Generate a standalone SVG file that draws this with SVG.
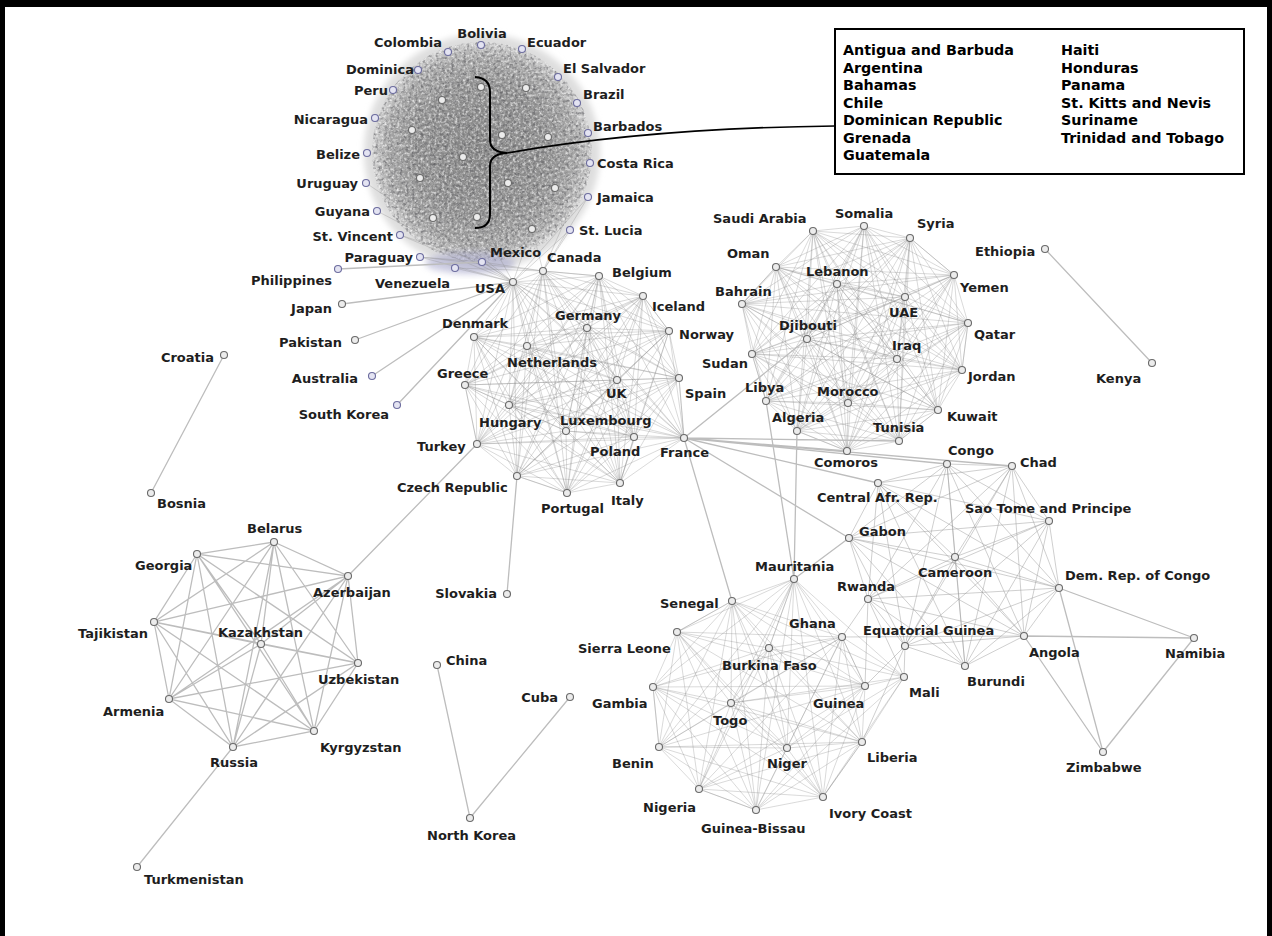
<svg xmlns="http://www.w3.org/2000/svg" width="1272" height="936" viewBox="0 0 1272 936">
<defs>
<style>
.nd{fill:#ececec;stroke:#6a6a6a;stroke-width:1.1}
.nl{fill:#e4e4f2;stroke:#6c6c9e;stroke-width:1.1}
.t{font-family:"DejaVu Sans","Liberation Sans",sans-serif;font-weight:bold;font-size:13px;fill:#1e1e1e}
.te{text-anchor:end}
.tm{text-anchor:middle}
.dense{fill:none;stroke:#8a8a8a;stroke-width:0.7;stroke-opacity:0.45;stroke-linejoin:round}
.mid{fill:none;stroke:#9a9a9a;stroke-width:0.8;stroke-opacity:0.6;stroke-linejoin:round}
.edge{fill:none;stroke:#bdbdbd;stroke-width:1.3}
.lg{font-family:"DejaVu Sans",Verdana,sans-serif;font-weight:bold;font-size:14.3px;fill:#000}
</style>
<radialGradient id="latG" cx="0.5" cy="0.5" r="0.5">
<stop offset="0" stop-color="#868686"/>
<stop offset="0.6" stop-color="#929292"/>
<stop offset="0.85" stop-color="#a6a6a6"/>
<stop offset="0.96" stop-color="#c4c4c4"/>
<stop offset="1" stop-color="#d8d8d8"/>
</radialGradient>
<clipPath id="latC"><circle cx="482" cy="152" r="110"/></clipPath>
<filter id="soft" x="-20%" y="-20%" width="140%" height="140%"><feGaussianBlur stdDeviation="3"/></filter>
<filter id="grainW" x="0" y="0" width="1" height="1" color-interpolation-filters="sRGB">
<feTurbulence type="fractalNoise" baseFrequency="0.38" numOctaves="2" seed="4"/>
<feColorMatrix type="matrix" values="0 0 0 0 1  0 0 0 0 1  0 0 0 0 1  1.7 0 0 0 -0.72"/>
<feGaussianBlur stdDeviation="0.4"/>
</filter>
<filter id="grainD" x="0" y="0" width="1" height="1" color-interpolation-filters="sRGB">
<feTurbulence type="fractalNoise" baseFrequency="0.33" numOctaves="2" seed="11"/>
<feColorMatrix type="matrix" values="0 0 0 0 0.3  0 0 0 0 0.3  0 0 0 0 0.32  -1.6 0 0 0 0.82"/>
<feGaussianBlur stdDeviation="0.4"/>
</filter>
</defs>
<rect width="1272" height="936" fill="#fff"/>

<g id="latin-cluster-fill">
<circle cx="482" cy="152" r="118" fill="#dedede" filter="url(#soft)"/>
<circle cx="482" cy="152" r="110" fill="url(#latG)"/>
<g clip-path="url(#latC)">
<rect x="372" y="42" width="220" height="220" filter="url(#grainW)"/>
<rect x="372" y="42" width="220" height="220" filter="url(#grainD)"/>
</g>
<ellipse cx="470" cy="263" rx="45" ry="11" fill="#a6a6cc" opacity="0.55" filter="url(#soft)"/>
</g>

<g id="connectors">
<path class="dense" d="M420,257 L513,282 M400,235 L513,282 M377,211 L513,282 M570,230 L513,282 M588,197 L513,282 M455,268 L513,282 M482,262 L513,282 M482,262 L543,271 M570,230 L543,271 M588,197 L543,271 M532,229 L543,271 M477,217 L513,282 M433,218 L513,282 M532,229 L513,282 M455,268 L543,271 M420,257 L543,271 M400,235 L482,262 M420,257 L482,262 M590,163 L543,271 M366,183 L513,282"/>
<path class="edge" d="M338,269 L482,262 M342,304 L513,282 M355,340 L513,282 M372,376 L513,282 M397,405 L513,282"/>

<path class="dense" d="M513,282 L543,271 599,276 643,296 669,331 679,378 684,438 634,437 620,483 567,493 517,476 477,444 465,385 474,337Z
M513,282 L599,276 669,331 684,438 620,483 517,476 465,385Z
M543,271 L643,296 679,378 634,437 567,493 477,444 474,337Z
M513,282 L643,296 684,438 567,493 465,385 543,271 669,331 634,437 517,476 474,337 599,276 679,378 620,483 477,444Z
M513,282 L669,331 620,483 465,385 599,276 684,438 517,476Z
M543,271 L679,378 567,493 474,337 643,296 634,437 477,444Z
M513,282 L679,378 517,476 543,271 684,438 477,444 599,276 634,437 465,385 643,296 620,483 474,337 669,331 567,493Z
M513,282 L684,438 465,385 669,331 517,476 599,276 620,483Z
M543,271 L634,437 474,337 679,378 477,444 643,296 567,493Z
M513,282 L634,437 M543,271 L620,483 M599,276 L567,493 M643,296 L517,476 M669,331 L477,444 M679,378 L465,385 M684,438 L474,337
M513,282 L587,328 543,271 527,346 599,276 587,328 643,296 527,346 669,331 587,328 679,378 527,346 684,438 587,328 634,437 527,346 620,483 587,328 567,493 527,346 517,476 587,328 477,444 527,346 465,385 587,328 474,337 527,346 513,282
M513,282 L617,380 543,271 509,405 599,276 617,380 643,296 509,405 669,331 617,380 679,378 509,405 684,438 617,380 634,437 509,405 620,483 617,380 567,493 509,405 517,476 617,380 477,444 509,405 465,385 617,380 474,337 509,405 513,282
M513,282 L566,431 543,271 599,276 566,431 643,296 669,331 566,431 679,378 684,438 566,431 634,437 620,483 566,431 567,493 517,476 566,431 477,444 465,385 566,431 474,337
M587,328 L527,346 617,380 509,405 566,431 587,328 617,380 566,431 527,346 509,405 587,328"/>

<path class="dense" d="M864,226 L910,238 954,275 968,323 962,370 938,410 899,441 847,451 797,431 766,401 752,354 742,304 776,267 813,231Z
M864,226 L954,275 962,370 899,441 797,431 752,354 776,267Z
M910,238 L968,323 938,410 847,451 766,401 742,304 813,231Z
M864,226 L968,323 899,441 766,401 776,267 910,238 962,370 847,451 752,354 813,231 954,275 938,410 797,431 742,304Z
M864,226 L962,370 797,431 776,267 954,275 899,441 752,354Z
M910,238 L938,410 766,401 813,231 968,323 847,451 742,304Z
M864,226 L938,410 752,354 910,238 899,441 742,304 954,275 847,451 776,267 968,323 797,431 813,231 962,370 766,401Z
M864,226 L899,441 776,267 962,370 752,354 954,275 797,431Z
M910,238 L847,451 813,231 938,410 742,304 968,323 766,401Z
M864,226 L847,451 M910,238 L797,431 M954,275 L766,401 M968,323 L752,354 M962,370 L742,304 M938,410 L776,267 M899,441 L813,231
M864,226 L837,284 910,238 905,297 954,275 837,284 968,323 905,297 962,370 837,284 938,410 905,297 899,441 837,284 847,451 905,297 797,431 837,284 766,401 905,297 752,354 837,284 742,304 905,297 776,267 837,284 813,231 905,297 864,226
M864,226 L807,339 910,238 897,359 954,275 807,339 968,323 897,359 962,370 807,339 938,410 897,359 899,441 807,339 847,451 897,359 797,431 807,339 766,401 897,359 752,354 807,339 742,304 897,359 776,267 807,339 813,231 897,359 864,226
M864,226 L848,403 910,238 954,275 848,403 968,323 962,370 848,403 938,410 899,441 848,403 847,451 797,431 848,403 766,401 752,354 848,403 742,304 776,267 848,403 813,231
M837,284 L905,297 807,339 897,359 848,403 837,284 807,339 848,403 905,297 897,359 837,284"/>

<path class="dense" d="M794,579 L842,637 865,686 862,742 823,797 756,810 699,789 659,747 653,687 677,632 732,601Z
M794,579 L865,686 823,797 699,789 653,687 732,601 842,637 862,742 756,810 659,747 677,632Z
M794,579 L862,742 699,789 677,632 842,637 823,797 659,747 732,601 865,686 756,810 653,687Z
M794,579 L823,797 653,687 842,637 756,810 677,632 865,686 699,789 732,601 862,742 659,747Z
M794,579 L756,810 732,601 823,797 677,632 862,742 653,687 865,686 659,747 842,637 699,789Z
M794,579 L769,648 842,637 731,703 865,686 769,648 862,742 731,703 823,797 769,648 756,810 731,703 699,789 769,648 659,747 731,703 653,687 769,648 677,632 731,703 732,601 769,648 794,579 731,703
M794,579 L787,748 842,637 865,686 787,748 862,742 823,797 787,748 756,810 699,789 787,748 659,747 653,687 787,748 677,632 732,601 787,748
M769,648 L731,703 787,748Z
M904,677 L842,637 M904,677 L865,686 M904,677 L862,742 M904,677 L823,797 M904,677 L794,579 M904,677 L769,648 M904,677 L787,748 M904,677 L732,601 M904,677 L731,703 M904,677 L756,810"/>

<path class="mid" d="M947,464 L1012,466 1049,521 1059,588 1024,636 965,666 905,646 868,599 849,538 878,483Z
M947,464 L1049,521 1024,636 905,646 849,538Z
M1012,466 L1059,588 965,666 868,599 878,483Z
M947,464 L1059,588 905,646 878,483 1049,521 965,666 849,538 1012,466 1024,636 868,599Z
M947,464 L1024,636 849,538 1049,521 905,646Z
M1012,466 L965,666 878,483 1059,588 868,599Z
M947,464 L965,666 M1012,466 L905,646 M1049,521 L868,599 M1059,588 L849,538 M1024,636 L878,483
M955,557 L947,464 M955,557 L1012,466 M955,557 L1049,521 M955,557 L1059,588 M955,557 L1024,636 M955,557 L965,666 M955,557 L905,646 M955,557 L868,599 M955,557 L849,538 M955,557 L878,483
M868,599 L842,637 M868,599 L865,686 M868,599 L904,677 M905,646 L865,686 M905,646 L862,742 M905,646 L904,677 M1024,636 L842,637"/>

<path class="edge" d="M1024,636 L1194,638 M1059,588 L1194,638 M1024,636 L1103,752 M1059,588 L1103,752 M1194,638 L1103,752"/>

<path class="edge" d="M274,542 L348,576 358,663 314,731 233,747 169,699 154,622 197,554Z
M274,542 L358,663 233,747 154,622Z
M348,576 L314,731 169,699 197,554Z
M274,542 L314,731 154,622 348,576 233,747 197,554 358,663 169,699Z
M274,542 L233,747 M348,576 L169,699 M358,663 L154,622 M314,731 L197,554
M261,644 L274,542 M261,644 L348,576 M261,644 L358,663 M261,644 L314,731 M261,644 L233,747 M261,644 L169,699 M261,644 L154,622 M261,644 L197,554"/>

<path class="edge" d="M477,444 L348,576 M507,594 L517,476 M224,355 L151,493 M437,665 L470,818 M570,697 L470,818 M233,747 L137,867 M1045,249 L1152,363
M684,438 L807,339 M684,438 L899,441 M684,438 L847,451 M684,438 L878,483 M684,438 L849,538 M684,438 L732,601 M684,438 L1012,466 M684,438 L947,464
M794,579 L766,401 M794,579 L797,431 M794,579 L849,538"/>
</g>

<g id="annotation">
<path d="M475,77 Q490,78 490,92 L490,140 Q490,152 507,153 Q490,154 490,166 L490,214 Q490,228 475,228" fill="none" stroke="#000" stroke-width="2"/>
<path d="M507,153 Q650,128 835,126" fill="none" stroke="#000" stroke-width="1.6"/>
</g>

<g id="legend">
<rect x="835" y="29" width="409" height="145" fill="#fff" stroke="#000" stroke-width="2"/>
<text class="lg" x="843" y="55">Antigua and Barbuda</text>
<text class="lg" x="843" y="72.5">Argentina</text>
<text class="lg" x="843" y="90">Bahamas</text>
<text class="lg" x="843" y="107.5">Chile</text>
<text class="lg" x="843" y="125">Dominican Republic</text>
<text class="lg" x="843" y="142.5">Grenada</text>
<text class="lg" x="843" y="160">Guatemala</text>
<text class="lg" x="1061" y="55">Haiti</text>
<text class="lg" x="1061" y="72.5">Honduras</text>
<text class="lg" x="1061" y="90">Panama</text>
<text class="lg" x="1061" y="107.5">St. Kitts and Nevis</text>
<text class="lg" x="1061" y="125">Suriname</text>
<text class="lg" x="1061" y="142.5">Trinidad and Tobago</text>
</g>

<g id="lat-inner-1"><circle class="nd" cx="481" cy="87" r="3.5"/></g>
<g id="lat-inner-2"><circle class="nd" cx="526" cy="88" r="3.5"/></g>
<g id="lat-inner-3"><circle class="nd" cx="442" cy="100" r="3.5"/></g>
<g id="lat-inner-4"><circle class="nd" cx="412" cy="130" r="3.5"/></g>
<g id="lat-inner-5"><circle class="nd" cx="502" cy="135" r="3.5"/></g>
<g id="lat-inner-6"><circle class="nd" cx="548" cy="137" r="3.5"/></g>
<g id="lat-inner-7"><circle class="nd" cx="463" cy="157" r="3.5"/></g>
<g id="lat-inner-8"><circle class="nd" cx="420" cy="178" r="3.5"/></g>
<g id="lat-inner-9"><circle class="nd" cx="508" cy="183" r="3.5"/></g>
<g id="lat-inner-10"><circle class="nd" cx="555" cy="188" r="3.5"/></g>
<g id="lat-inner-11"><circle class="nd" cx="433" cy="218" r="3.5"/></g>
<g id="lat-inner-12"><circle class="nd" cx="477" cy="217" r="3.5"/></g>
<g id="lat-inner-13"><circle class="nd" cx="532" cy="229" r="3.5"/></g>

<g id="n-colombia"><circle class="nl" cx="448" cy="52" r="3.5"/><text class="t te" x="442" y="47">Colombia</text></g>
<g id="n-bolivia"><circle class="nl" cx="481" cy="45" r="3.5"/><text class="t tm" x="482" y="38">Bolivia</text></g>
<g id="n-ecuador"><circle class="nl" cx="522" cy="49" r="3.5"/><text class="t" x="527" y="47">Ecuador</text></g>
<g id="n-dominica"><circle class="nl" cx="418" cy="70" r="3.5"/><text class="t te" x="414" y="74">Dominica</text></g>
<g id="n-elsalvador"><circle class="nl" cx="558" cy="77" r="3.5"/><text class="t" x="563" y="73">El Salvador</text></g>
<g id="n-peru"><circle class="nl" cx="393" cy="90" r="3.5"/><text class="t te" x="388" y="95">Peru</text></g>
<g id="n-brazil"><circle class="nl" cx="577" cy="103" r="3.5"/><text class="t" x="583" y="99">Brazil</text></g>
<g id="n-nicaragua"><circle class="nl" cx="375" cy="118" r="3.5"/><text class="t te" x="368" y="124">Nicaragua</text></g>
<g id="n-barbados"><circle class="nl" cx="588" cy="133" r="3.5"/><text class="t" x="593" y="131">Barbados</text></g>
<g id="n-belize"><circle class="nl" cx="367" cy="153" r="3.5"/><text class="t te" x="360" y="159">Belize</text></g>
<g id="n-costarica"><circle class="nl" cx="590" cy="163" r="3.5"/><text class="t" x="597" y="168">Costa Rica</text></g>
<g id="n-uruguay"><circle class="nl" cx="366" cy="183" r="3.5"/><text class="t te" x="358" y="188">Uruguay</text></g>
<g id="n-jamaica"><circle class="nl" cx="588" cy="197" r="3.5"/><text class="t" x="597" y="202">Jamaica</text></g>
<g id="n-guyana"><circle class="nl" cx="377" cy="211" r="3.5"/><text class="t te" x="370" y="216">Guyana</text></g>
<g id="n-stlucia"><circle class="nl" cx="570" cy="230" r="3.5"/><text class="t" x="579" y="235">St. Lucia</text></g>
<g id="n-stvincent"><circle class="nl" cx="400" cy="235" r="3.5"/><text class="t te" x="393" y="241">St. Vincent</text></g>
<g id="n-paraguay"><circle class="nl" cx="420" cy="257" r="3.5"/><text class="t te" x="413" y="262">Paraguay</text></g>
<g id="n-venezuela"><circle class="nl" cx="455" cy="268" r="3.5"/><text class="t" x="375" y="288">Venezuela</text></g>
<g id="n-mexico"><circle class="nl" cx="482" cy="262" r="3.5"/><text class="t" x="490" y="257">Mexico</text></g>
<g id="n-canada"><circle class="nd" cx="543" cy="271" r="3.5"/><text class="t" x="547" y="262">Canada</text></g>
<g id="n-usa"><circle class="nd" cx="513" cy="282" r="3.5"/><text class="t te" x="505" y="293">USA</text></g>
<g id="n-philippines"><circle class="nl" cx="338" cy="269" r="3.5"/><text class="t te" x="332" y="285">Philippines</text></g>
<g id="n-japan"><circle class="nd" cx="342" cy="304" r="3.5"/><text class="t te" x="332" y="313">Japan</text></g>
<g id="n-pakistan"><circle class="nd" cx="355" cy="340" r="3.5"/><text class="t te" x="342" y="347">Pakistan</text></g>
<g id="n-australia"><circle class="nl" cx="372" cy="376" r="3.5"/><text class="t te" x="358" y="383">Australia</text></g>
<g id="n-southkorea"><circle class="nl" cx="397" cy="405" r="3.5"/><text class="t te" x="389" y="419">South Korea</text></g>
<g id="n-croatia"><circle class="nd" cx="224" cy="355" r="3.5"/><text class="t te" x="214" y="362">Croatia</text></g>
<g id="n-bosnia"><circle class="nd" cx="151" cy="493" r="3.5"/><text class="t" x="157" y="508">Bosnia</text></g>

<g id="n-belgium"><circle class="nd" cx="599" cy="276" r="3.5"/><text class="t" x="612" y="277">Belgium</text></g>
<g id="n-iceland"><circle class="nd" cx="643" cy="296" r="3.5"/><text class="t" x="652" y="311">Iceland</text></g>
<g id="n-germany"><circle class="nd" cx="587" cy="328" r="3.5"/><text class="t" x="555" y="320">Germany</text></g>
<g id="n-denmark"><circle class="nd" cx="474" cy="337" r="3.5"/><text class="t" x="442" y="328">Denmark</text></g>
<g id="n-norway"><circle class="nd" cx="669" cy="331" r="3.5"/><text class="t" x="679" y="339">Norway</text></g>
<g id="n-netherlands"><circle class="nd" cx="527" cy="346" r="3.5"/><text class="t" x="507" y="367">Netherlands</text></g>
<g id="n-greece"><circle class="nd" cx="465" cy="385" r="3.5"/><text class="t" x="437" y="378">Greece</text></g>
<g id="n-spain"><circle class="nd" cx="679" cy="378" r="3.5"/><text class="t" x="685" y="398">Spain</text></g>
<g id="n-uk"><circle class="nd" cx="617" cy="380" r="3.5"/><text class="t" x="606" y="398">UK</text></g>
<g id="n-hungary"><circle class="nd" cx="509" cy="405" r="3.5"/><text class="t" x="479" y="427">Hungary</text></g>
<g id="n-luxembourg"><circle class="nd" cx="566" cy="431" r="3.5"/><text class="t" x="560" y="425">Luxembourg</text></g>
<g id="n-france"><circle class="nd" cx="684" cy="438" r="3.5"/><text class="t" x="660" y="457">France</text></g>
<g id="n-poland"><circle class="nd" cx="634" cy="437" r="3.5"/><text class="t" x="590" y="456">Poland</text></g>
<g id="n-turkey"><circle class="nd" cx="477" cy="444" r="3.5"/><text class="t" x="417" y="451">Turkey</text></g>
<g id="n-czech"><circle class="nd" cx="517" cy="476" r="3.5"/><text class="t" x="397" y="492">Czech Republic</text></g>
<g id="n-italy"><circle class="nd" cx="620" cy="483" r="3.5"/><text class="t" x="611" y="505">Italy</text></g>
<g id="n-portugal"><circle class="nd" cx="567" cy="493" r="3.5"/><text class="t" x="541" y="513">Portugal</text></g>
<g id="n-slovakia"><circle class="nd" cx="507" cy="594" r="3.5"/><text class="t te" x="497" y="598">Slovakia</text></g>

<g id="n-saudiarabia"><circle class="nd" cx="813" cy="231" r="3.5"/><text class="t" x="713" y="223">Saudi Arabia</text></g>
<g id="n-somalia"><circle class="nd" cx="864" cy="226" r="3.5"/><text class="t" x="835" y="218">Somalia</text></g>
<g id="n-syria"><circle class="nd" cx="910" cy="238" r="3.5"/><text class="t" x="917" y="228">Syria</text></g>
<g id="n-oman"><circle class="nd" cx="776" cy="267" r="3.5"/><text class="t" x="727" y="258">Oman</text></g>
<g id="n-lebanon"><circle class="nd" cx="837" cy="284" r="3.5"/><text class="t" x="806" y="276">Lebanon</text></g>
<g id="n-yemen"><circle class="nd" cx="954" cy="275" r="3.5"/><text class="t" x="960" y="292">Yemen</text></g>
<g id="n-uae"><circle class="nd" cx="905" cy="297" r="3.5"/><text class="t" x="889" y="317">UAE</text></g>
<g id="n-bahrain"><circle class="nd" cx="742" cy="304" r="3.5"/><text class="t" x="715" y="296">Bahrain</text></g>
<g id="n-djibouti"><circle class="nd" cx="807" cy="339" r="3.5"/><text class="t" x="779" y="330">Djibouti</text></g>
<g id="n-qatar"><circle class="nd" cx="968" cy="323" r="3.5"/><text class="t" x="974" y="339">Qatar</text></g>
<g id="n-iraq"><circle class="nd" cx="897" cy="359" r="3.5"/><text class="t" x="892" y="350">Iraq</text></g>
<g id="n-sudan"><circle class="nd" cx="752" cy="354" r="3.5"/><text class="t" x="702" y="368">Sudan</text></g>
<g id="n-jordan"><circle class="nd" cx="962" cy="370" r="3.5"/><text class="t" x="968" y="381">Jordan</text></g>
<g id="n-libya"><circle class="nd" cx="766" cy="401" r="3.5"/><text class="t" x="745" y="392">Libya</text></g>
<g id="n-morocco"><circle class="nd" cx="848" cy="403" r="3.5"/><text class="t" x="817" y="396">Morocco</text></g>
<g id="n-kuwait"><circle class="nd" cx="938" cy="410" r="3.5"/><text class="t" x="947" y="421">Kuwait</text></g>
<g id="n-algeria"><circle class="nd" cx="797" cy="431" r="3.5"/><text class="t" x="772" y="422">Algeria</text></g>
<g id="n-tunisia"><circle class="nd" cx="899" cy="441" r="3.5"/><text class="t" x="873" y="432">Tunisia</text></g>
<g id="n-comoros"><circle class="nd" cx="847" cy="451" r="3.5"/><text class="t" x="814" y="467">Comoros</text></g>
<g id="n-ethiopia"><circle class="nd" cx="1045" cy="249" r="3.5"/><text class="t" x="975" y="256">Ethiopia</text></g>
<g id="n-kenya"><circle class="nd" cx="1152" cy="363" r="3.5"/><text class="t" x="1096" y="383">Kenya</text></g>

<g id="n-congo"><circle class="nd" cx="947" cy="464" r="3.5"/><text class="t" x="948" y="455">Congo</text></g>
<g id="n-chad"><circle class="nd" cx="1012" cy="466" r="3.5"/><text class="t" x="1020" y="467">Chad</text></g>
<g id="n-car"><circle class="nd" cx="878" cy="483" r="3.5"/><text class="t" x="817" y="502">Central Afr. Rep.</text></g>
<g id="n-saotome"><circle class="nd" cx="1049" cy="521" r="3.5"/><text class="t" x="965" y="513">Sao Tome and Principe</text></g>
<g id="n-gabon"><circle class="nd" cx="849" cy="538" r="3.5"/><text class="t" x="859" y="536">Gabon</text></g>
<g id="n-cameroon"><circle class="nd" cx="955" cy="557" r="3.5"/><text class="t" x="918" y="577">Cameroon</text></g>
<g id="n-drc"><circle class="nd" cx="1059" cy="588" r="3.5"/><text class="t" x="1065" y="580">Dem. Rep. of Congo</text></g>
<g id="n-rwanda"><circle class="nd" cx="868" cy="599" r="3.5"/><text class="t" x="837" y="591">Rwanda</text></g>
<g id="n-eqguinea"><circle class="nd" cx="905" cy="646" r="3.5"/><text class="t" x="863" y="635">Equatorial Guinea</text></g>
<g id="n-angola"><circle class="nd" cx="1024" cy="636" r="3.5"/><text class="t" x="1029" y="657">Angola</text></g>
<g id="n-namibia"><circle class="nd" cx="1194" cy="638" r="3.5"/><text class="t" x="1165" y="658">Namibia</text></g>
<g id="n-burundi"><circle class="nd" cx="965" cy="666" r="3.5"/><text class="t" x="967" y="686">Burundi</text></g>
<g id="n-zimbabwe"><circle class="nd" cx="1103" cy="752" r="3.5"/><text class="t" x="1066" y="772">Zimbabwe</text></g>

<g id="n-mauritania"><circle class="nd" cx="794" cy="579" r="3.5"/><text class="t" x="755" y="571">Mauritania</text></g>
<g id="n-senegal"><circle class="nd" cx="732" cy="601" r="3.5"/><text class="t" x="660" y="608">Senegal</text></g>
<g id="n-ghana"><circle class="nd" cx="842" cy="637" r="3.5"/><text class="t" x="789" y="628">Ghana</text></g>
<g id="n-sierraleone"><circle class="nd" cx="677" cy="632" r="3.5"/><text class="t" x="578" y="653">Sierra Leone</text></g>
<g id="n-burkinafaso"><circle class="nd" cx="769" cy="648" r="3.5"/><text class="t" x="722" y="670">Burkina Faso</text></g>
<g id="n-gambia"><circle class="nd" cx="653" cy="687" r="3.5"/><text class="t" x="592" y="708">Gambia</text></g>
<g id="n-guinea"><circle class="nd" cx="865" cy="686" r="3.5"/><text class="t" x="813" y="708">Guinea</text></g>
<g id="n-mali"><circle class="nd" cx="904" cy="677" r="3.5"/><text class="t" x="909" y="697">Mali</text></g>
<g id="n-togo"><circle class="nd" cx="731" cy="703" r="3.5"/><text class="t" x="713" y="725">Togo</text></g>
<g id="n-benin"><circle class="nd" cx="659" cy="747" r="3.5"/><text class="t" x="612" y="768">Benin</text></g>
<g id="n-niger"><circle class="nd" cx="787" cy="748" r="3.5"/><text class="t" x="767" y="768">Niger</text></g>
<g id="n-liberia"><circle class="nd" cx="862" cy="742" r="3.5"/><text class="t" x="867" y="762">Liberia</text></g>
<g id="n-nigeria"><circle class="nd" cx="699" cy="789" r="3.5"/><text class="t" x="643" y="812">Nigeria</text></g>
<g id="n-ivorycoast"><circle class="nd" cx="823" cy="797" r="3.5"/><text class="t" x="829" y="818">Ivory Coast</text></g>
<g id="n-guineabissau"><circle class="nd" cx="756" cy="810" r="3.5"/><text class="t" x="701" y="833">Guinea-Bissau</text></g>

<g id="n-belarus"><circle class="nd" cx="274" cy="542" r="3.5"/><text class="t" x="247" y="533">Belarus</text></g>
<g id="n-georgia"><circle class="nd" cx="197" cy="554" r="3.5"/><text class="t" x="135" y="570">Georgia</text></g>
<g id="n-azerbaijan"><circle class="nd" cx="348" cy="576" r="3.5"/><text class="t" x="313" y="597">Azerbaijan</text></g>
<g id="n-tajikistan"><circle class="nd" cx="154" cy="622" r="3.5"/><text class="t te" x="148" y="638">Tajikistan</text></g>
<g id="n-kazakhstan"><circle class="nd" cx="261" cy="644" r="3.5"/><text class="t" x="218" y="637">Kazakhstan</text></g>
<g id="n-uzbekistan"><circle class="nd" cx="358" cy="663" r="3.5"/><text class="t" x="318" y="684">Uzbekistan</text></g>
<g id="n-armenia"><circle class="nd" cx="169" cy="699" r="3.5"/><text class="t" x="103" y="716">Armenia</text></g>
<g id="n-kyrgyzstan"><circle class="nd" cx="314" cy="731" r="3.5"/><text class="t" x="320" y="752">Kyrgyzstan</text></g>
<g id="n-russia"><circle class="nd" cx="233" cy="747" r="3.5"/><text class="t" x="210" y="767">Russia</text></g>
<g id="n-turkmenistan"><circle class="nd" cx="137" cy="867" r="3.5"/><text class="t" x="144" y="884">Turkmenistan</text></g>

<g id="n-china"><circle class="nd" cx="437" cy="665" r="3.5"/><text class="t" x="446" y="665">China</text></g>
<g id="n-cuba"><circle class="nd" cx="570" cy="697" r="3.5"/><text class="t te" x="558" y="702">Cuba</text></g>
<g id="n-northkorea"><circle class="nd" cx="470" cy="818" r="3.5"/><text class="t" x="427" y="840">North Korea</text></g>

<g id="frame">
<rect x="2.5" y="3.5" width="1267" height="940" fill="none" stroke="#000" stroke-width="5"/>
<rect x="0" y="0" width="1272" height="7" fill="#000"/>
</g>
</svg>
